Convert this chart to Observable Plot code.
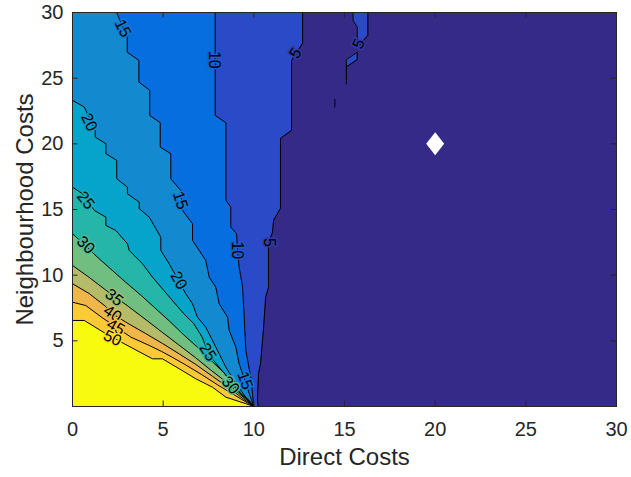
<!DOCTYPE html>
<html>
<head>
<meta charset="utf-8">
<script src="https://cdn.jsdelivr.net/npm/d3@7"></script>
<script src="https://cdn.jsdelivr.net/npm/@observablehq/plot@0.6"></script>
<style>
  html, body { margin: 0; padding: 0; background: #ffffff; }
  #chart svg { display: block; background: #ffffff; }
</style>
</head>
<body>
<div id="chart"></div>
<script>
// ---------- data ----------
const xTicks = [0, 5, 10, 15, 20, 25, 30];
const yTicks = [5, 10, 15, 20, 25, 30];
const levels = [5, 10, 15, 20, 25, 30, 35, 40, 45, 50];

// contour lines, each as [Direct Costs, Neighbourhood Costs] points, bottom to top
const c05 = [[10.25,0],[10.2,0.46],[10.26,2.51],[10.37,3.27],[10.54,6.02],[10.65,8.3],[10.81,9.06],[10.81,12.5],[11.03,13.25],[11.09,14.17],[11.47,15.08],[11.47,20.41],[12.08,21.02],[12.08,26.35],[12.69,27.65],[12.69,30]];
const c10 = [[10,0],[9.83,2.23],[9.56,4.26],[9.47,6.8],[9.38,9.09],[9.19,10.61],[9.1,11.88],[9.05,13.15],[8.73,13.66],[8.73,15.18],[8.46,15.69],[8.46,21.61],[7.87,22.16],[7.87,30]];
const c15 = [[10,0],[9.75,0.97],[9.19,3.25],[9.01,4.52],[8.64,5.79],[8.55,6.8],[8.09,7.82],[7.9,9.09],[7.54,9.85],[7.35,11.12],[6.99,11.88],[6.62,12.64],[6.62,13.91],[6.07,14.93],[5.97,16.45],[5.42,17.34],[5.42,19.25],[4.84,19.75],[4.84,21.61],[4.26,22.16],[4.26,24.07],[3.66,24.7],[3.66,26.35],[3.02,26.98],[3.02,28.13],[2.43,30]];
const c20 = [[10,0],[9.56,0.71],[9.01,1.73],[8.46,2.99],[8.09,4.01],[7.72,5.03],[7.35,6.04],[6.89,6.8],[6.62,7.82],[6.25,8.58],[5.33,10.87],[4.87,11.88],[4.87,12.89],[4.23,14.42],[3.68,15.06],[3.68,15.56],[3.03,16.2],[3.03,16.7],[2.44,17.34],[2.44,18.74],[1.84,19.25],[1.84,20.01],[1.25,20.51],[1.25,21.02],[0.65,22.8],[0,23.31]];
const c25 = [[10,0],[9.75,0.46],[9.27,0.97],[8.71,1.98],[8.16,2.87],[7.79,3.5],[7.46,4.14],[7.15,5.28],[6.69,6.3],[6.14,7.06],[5.59,7.94],[5.04,8.83],[4.41,9.85],[3.86,10.87],[3.13,11.88],[3.03,12.39],[2.39,13.4],[1.84,13.79],[1.84,14.42],[1.2,14.93],[0.55,16.2],[0,16.7]];
const c30 = [[10,0],[9.5,0.7],[8.85,1.6],[8.4,2.5],[7.65,3.5],[6.9,4.5],[6.1,5.5],[5.35,6.5],[4.55,7.5],[3.75,8.5],[2.9,9.5],[2.0,10.6],[1.35,11.4],[0.7,12.26],[0,13.15]];
const c35 = [[10,0],[9.6,0.5],[9.0,1.2],[8.35,2.0],[7.6,2.8],[6.8,3.7],[5.85,4.7],[4.9,5.7],[4.15,6.5],[3.1,7.6],[2.5,8.2],[1.8,8.9],[0.85,9.9],[0,10.74]];
const c40 = [[10,0],[9.4,0.6],[8.64,1.4],[7.72,2.3],[6.8,3.2],[5.89,4.0],[4.96,4.8],[4.04,5.55],[2.94,6.42],[2.21,7.06],[1.84,7.6],[0.92,8.6],[0,9.35]];
const c45 = [[10,0],[9.7,0.23],[8.9,0.9],[8.0,1.65],[7.1,2.45],[6.2,3.2],[5.5,3.75],[4.9,4.2],[4.23,4.65],[3.22,5.28],[2.4,6.05],[1.65,6.75],[0.73,7.69],[0,7.94]];
const c50 = [[10,0],[9.56,0.21],[8.46,0.71],[7.72,1.47],[6.8,2.11],[5.89,2.87],[4.96,3.63],[4.41,3.63],[2.85,4.78],[1.84,5.54],[0.65,6.55],[0,6.55]];

// small islands of the 5-10 band inside the lowest band: [y, left x, right x]
const islandA = [[27.5,15.82,15.82],[27.7,15.70,15.93],[28.26,15.70,16.29],[28.9,15.70,16.29],[29.4,15.47,16.29],[30,15.47,16.29]];
const islandB = [[25.85,15.10,15.10],[26.41,15.10,15.70],[26.98,15.70,15.70]];
// outlines of the islands and stray contour pieces
const strayA = [[15.47,30],[15.47,29.4],[15.70,28.9],[15.70,27.7],[15.82,27.5],[16.29,28.26],[16.29,30]];
const strayB = [[15.10,24.55],[15.10,26.41],[15.70,26.98],[15.70,26.41],[15.10,25.85]];
const strayC = [[14.47,22.8],[14.47,23.4]];

// inline contour labels
const labelText  = ["15","10","5","5","20","25","15","10","5","30","20","35","40","45","50","25","30","15"];
const labelX     = [2.78, 7.8, 12.3, 15.79, 0.92, 0.73, 5.95, 9.08, 10.83, 0.73, 5.86, 2.3, 2.21, 2.39, 2.2, 7.46, 8.72, 9.52];
const labelY     = [28.8, 26.4, 26.9, 27.62, 21.65, 15.7, 15.7, 11.9, 12.5, 12.3, 9.6, 8.3, 7.06, 6.04, 5.2, 4.14, 1.62, 1.98];
const labelAngle = [63, 90, -57, -65, 64, 52, 72, 90, 90, 44, 60, 38, 34, 30, 26, 57, 48, 70];

// white marker
const markerX = [20];
const markerY = [20];

// ---------- styles ----------
const baseColor = "#352a87";
const bandColors = ["#2b4ac7","#066ede","#1389d0","#06a4ca","#25b5a9","#71bf80","#b5bb66","#f1b64a","#fcca36","#f9fb0e"];
const INK = "#262626";
const FONT = "'Liberation Sans', Arial, Helvetica, sans-serif";

const contours = [c05, c10, c15, c20, c25, c30, c35, c40, c45, c50];
const W = 631, H = 477;
const mL = 72, mR = 15, mT = 12, mB = 71;
const fw = W - mL - mR, fh = H - mT - mB;
const tickLen = 5.5;

const diamond = {
  draw(ctx, size) {
    const r = Math.sqrt(size / Math.PI);
    ctx.moveTo(0, -1.15 * r);
    ctx.lineTo(0.9 * r, 0);
    ctx.lineTo(0, 1.15 * r);
    ctx.lineTo(-0.9 * r, 0);
    ctx.closePath();
  }
};

const marks = [];
marks.push(Plot.frame({fill: baseColor}));
contours.forEach((pts, i) => {
  marks.push(Plot.areaX(pts, {y: d => d[1], x1: () => 0, x2: d => d[0], fill: bandColors[i], curve: "linear"}));
  if (i === 0) {
    marks.push(Plot.areaX(islandA, {y: d => d[0], x1: d => d[1], x2: d => d[2], fill: bandColors[0]}));
    marks.push(Plot.areaX(islandB, {y: d => d[0], x1: d => d[1], x2: d => d[2], fill: bandColors[0]}));
  }
});
contours.forEach(pts => {
  marks.push(Plot.line(pts, {x: d => d[0], y: d => d[1], stroke: "#000", strokeWidth: 1, clip: true}));
});
[strayA, strayB, strayC].forEach(pts => {
  marks.push(Plot.line(pts, {x: d => d[0], y: d => d[1], stroke: "#000", strokeWidth: 1, clip: true}));
});
labelText.forEach((t, i) => {
  const li = levels.indexOf(+t);
  const below = li === 0 ? baseColor : bandColors[li - 1];
  const halo = d3.interpolateRgb(below, bandColors[li])(0.5);
  marks.push(Plot.text([i], {
    x: j => labelX[j], y: j => labelY[j], text: j => labelText[j],
    rotate: labelAngle[i], fill: "#000", stroke: halo, strokeWidth: 3,
    fontSize: 16, fontFamily: FONT, lineAnchor: "middle", textAnchor: "middle"
  }));
});
marks.push(Plot.dot([0], {x: j => markerX[j], y: j => markerY[j], r: 10, symbol: diamond, fill: "#ffffff", stroke: "none"}));

// inner tick marks on all four sides
marks.push(Plot.tickX(xTicks, {x: d => d, insetTop: fh - tickLen, stroke: INK, strokeWidth: 1}));
marks.push(Plot.tickX(xTicks, {x: d => d, insetBottom: fh - tickLen, stroke: INK, strokeWidth: 1}));
marks.push(Plot.tickY(yTicks, {y: d => d, insetRight: fw - tickLen, stroke: INK, strokeWidth: 1}));
marks.push(Plot.tickY(yTicks, {y: d => d, insetLeft: fw - tickLen, stroke: INK, strokeWidth: 1}));
marks.push(Plot.frame({stroke: INK, strokeWidth: 1}));

// axes
marks.push(Plot.axisX({ticks: xTicks, tickSize: 0, tickPadding: 15, label: null, color: INK, fontSize: 20, fontFamily: FONT}));
marks.push(Plot.axisY({ticks: yTicks, tickSize: 0, tickPadding: 9, label: null, color: INK, fontSize: 20, fontFamily: FONT}));
marks.push(Plot.text(["Direct Costs"], {text: d => d, frameAnchor: "bottom", dy: 58, fontSize: 24, fontFamily: FONT, fill: INK, textAnchor: "middle"}));
marks.push(Plot.text(["Neighbourhood Costs"], {text: d => d, frameAnchor: "left", dx: -47, rotate: -90, fontSize: 24, fontFamily: FONT, fill: INK, textAnchor: "middle"}));

const chart = Plot.plot({
  width: W, height: H,
  marginLeft: mL, marginRight: mR, marginTop: mT, marginBottom: mB,
  style: {fontFamily: FONT, fontSize: "20px", color: INK, background: "#ffffff"},
  x: {domain: [0, 30], axis: null},
  y: {domain: [0, 30], axis: null},
  marks
});
document.getElementById("chart").appendChild(chart);
</script>
</body>
</html>
